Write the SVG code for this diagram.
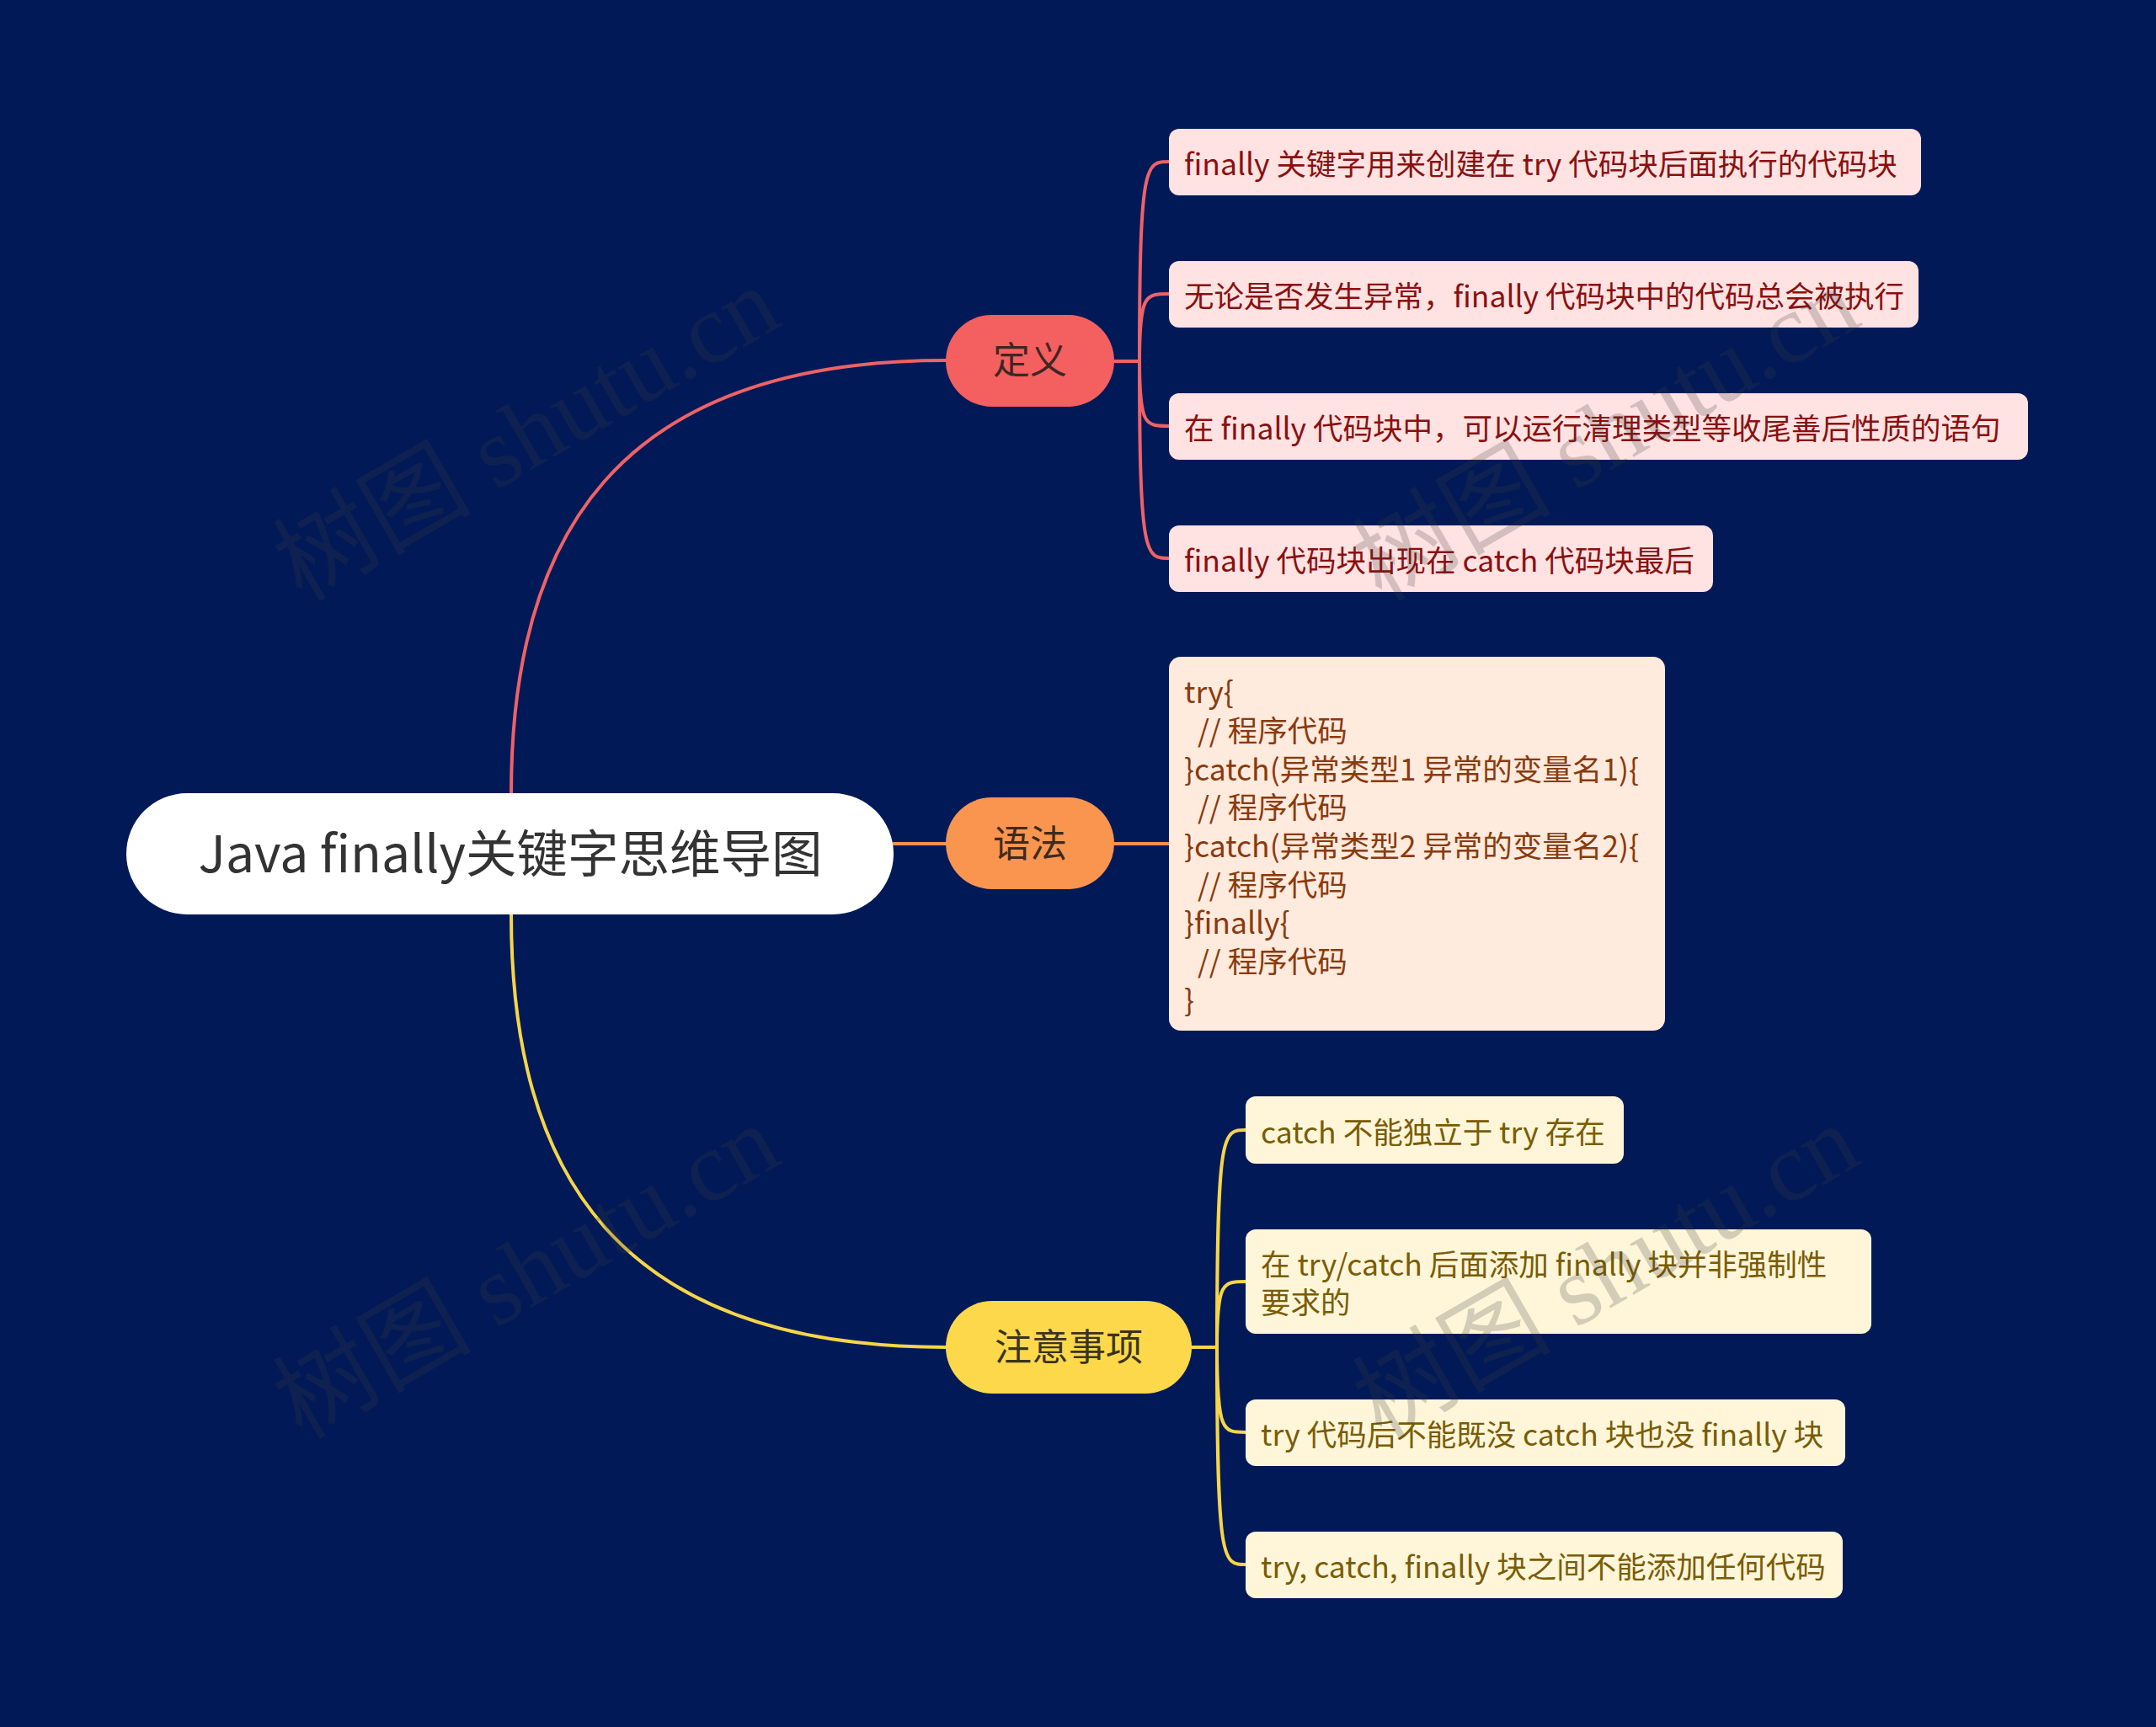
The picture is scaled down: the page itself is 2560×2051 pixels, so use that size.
<svg xmlns="http://www.w3.org/2000/svg" width="2560" height="2051" viewBox="0 0 2560 2051">
<style>
.t{font-family:"Noto Sans CJK SC","Noto Sans",sans-serif;}
.root{font-size:60.5px;fill:#333333;}
.main{font-size:44px;text-anchor:middle;}
.leaf{font-size:35.5px;}
.conn{fill:none;stroke-width:4;stroke-linecap:round;}
.red{stroke:#EF6266;}
.org{stroke:#F39153;}
.yel{stroke:#F6D54A;}
.lr{fill:#FFE2E2;}
.lo{fill:#FFEADE;}
.ly{fill:#FFF6D9;}
.tr{fill:#8A1010;}
.to{fill:#8A3A0C;}
.ty{fill:#7A5C04;}
.wm{font-family:"Liberation Serif","Noto Sans CJK SC",serif;font-size:118px;fill:#3c3c3c;opacity:0.22;text-anchor:middle;}
</style>
<rect width="2560" height="2051" fill="#011A57"/>
<g id="connectors">
<path class="conn red" d="M607,942 C607,640 730,428 1123,428"/>
<path class="conn org" d="M1061,1002 H1123"/>
<path class="conn yel" d="M607,1086 C607,1390 730,1600 1123,1600"/>
<path class="conn red" d="M1323,429 H1353 C1353,192 1360,192 1388,192"/>
<path class="conn red" d="M1353,429 C1353,349 1360,349 1388,349"/>
<path class="conn red" d="M1353,429 C1353,506 1360,506 1388,506"/>
<path class="conn red" d="M1353,429 C1353,663 1360,663 1388,663"/>
<path class="conn org" d="M1323,1002 H1388"/>
<path class="conn yel" d="M1415,1600 H1445 C1445,1342 1452,1342 1479,1342"/>
<path class="conn yel" d="M1445,1600 C1445,1522 1452,1522 1479,1522"/>
<path class="conn yel" d="M1445,1600 C1445,1701 1452,1701 1479,1701"/>
<path class="conn yel" d="M1445,1600 C1445,1858 1452,1858 1479,1858"/>
</g>
<g id="root">
<rect x="150" y="942" width="911" height="144" rx="72" fill="#FFFFFF"/>
<text class="t root" x="606" y="1036" text-anchor="middle">Java finally关键字思维导图</text>
</g>
<g id="n-def">
<rect x="1123" y="374" width="200" height="109" rx="54.5" fill="#F45F5F"/>
<text class="t main" x="1223" y="444" fill="#3E2626">定义</text>
</g>
<g id="n-syn">
<rect x="1123" y="947" width="200" height="109" rx="54.5" fill="#F9954F"/>
<text class="t main" x="1223" y="1018" fill="#3E2A1E">语法</text>
</g>
<g id="n-note">
<rect x="1123" y="1545" width="292" height="110" rx="55" fill="#FDD84A"/>
<text class="t main" x="1269" y="1616" fill="#3A3320">注意事项</text>
</g>
<g id="def-1">
<rect class="lr" x="1388" y="153" width="893" height="79" rx="12"/>
<text class="t leaf tr" x="1406" y="208">finally 关键字用来创建在 try 代码块后面执行的代码块</text>
</g>
<g id="def-2">
<rect class="lr" x="1388" y="310" width="890" height="79" rx="12"/>
<text class="t leaf tr" x="1406" y="365">无论是否发生异常，finally 代码块中的代码总会被执行</text>
</g>
<g id="def-3">
<rect class="lr" x="1388" y="467" width="1020" height="79" rx="12"/>
<text class="t leaf tr" x="1406" y="522">在 finally 代码块中，可以运行清理类型等收尾善后性质的语句</text>
</g>
<g id="def-4">
<rect class="lr" x="1388" y="624" width="646" height="79" rx="12"/>
<text class="t leaf tr" x="1406" y="679">finally 代码块出现在 catch 代码块最后</text>
</g>
<g id="syn-1">
<rect class="lo" x="1388" y="780" width="589" height="444" rx="14"/>
<text class="t leaf to" xml:space="preserve"><tspan x="1406" y="835">try{</tspan><tspan x="1406" y="881">  // 程序代码</tspan><tspan x="1406" y="927">}catch(异常类型1 异常的变量名1){</tspan><tspan x="1406" y="972">  // 程序代码</tspan><tspan x="1406" y="1018">}catch(异常类型2 异常的变量名2){</tspan><tspan x="1406" y="1064">  // 程序代码</tspan><tspan x="1406" y="1109">}finally{</tspan><tspan x="1406" y="1155">  // 程序代码</tspan><tspan x="1406" y="1201">}</tspan></text>
</g>
<g id="note-1">
<rect class="ly" x="1479" y="1302" width="449" height="80" rx="12"/>
<text class="t leaf ty" x="1497" y="1358">catch 不能独立于 try 存在</text>
</g>
<g id="note-2">
<rect class="ly" x="1479" y="1460" width="743" height="124" rx="12"/>
<text class="t leaf ty"><tspan x="1497" y="1515">在 try/catch 后面添加 finally 块并非强制性</tspan><tspan x="1497" y="1560">要求的</tspan></text>
</g>
<g id="note-3">
<rect class="ly" x="1479" y="1662" width="712" height="79" rx="12"/>
<text class="t leaf ty" x="1497" y="1717">try 代码后不能既没 catch 块也没 finally 块</text>
</g>
<g id="note-4">
<rect class="ly" x="1479" y="1819" width="709" height="79" rx="12"/>
<text class="t leaf ty" x="1497" y="1874">try, catch, finally 块之间不能添加任何代码</text>
</g>
<g id="watermarks">
<text class="wm" transform="translate(645,550) rotate(-30)">树图 shutu.cn</text>
<text class="wm" transform="translate(1927,550) rotate(-30)">树图 shutu.cn</text>
<text class="wm" transform="translate(645,1545) rotate(-30)">树图 shutu.cn</text>
<text class="wm" transform="translate(1927,1545) rotate(-30)">树图 shutu.cn</text>
</g>
</svg>
